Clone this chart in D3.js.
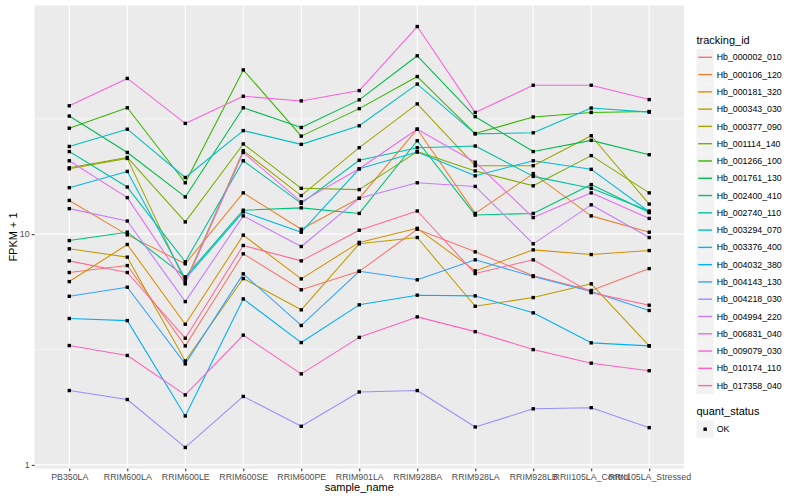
<!DOCTYPE html>
<html><head><meta charset="utf-8">
<script src="https://cdn.jsdelivr.net/npm/d3@7"></script>
<style>
body{margin:0;background:#fff;}
text{font-family:"Liberation Sans",Arial,Helvetica,sans-serif;}
</style>
</head><body>
<svg id="chart" width="800" height="500"></svg>
<script>
// ---------- data ----------
const samples = ["PB350LA","RRIM600LA","RRIM600LE","RRIM600SE","RRIM600PE","RRIM901LA","RRIM928BA","RRIM928LA","RRIM928LB","RRII105LA_Control","RRII105LA_Stressed"];
const trackingIds = ["Hb_000002_010","Hb_000106_120","Hb_000181_320","Hb_000343_030","Hb_000377_090","Hb_001114_140","Hb_001266_100","Hb_001761_130","Hb_002400_410","Hb_002740_110","Hb_003294_070","Hb_003376_400","Hb_004032_380","Hb_004143_130","Hb_004218_030","Hb_004994_220","Hb_006831_040","Hb_009079_030","Hb_010174_110","Hb_017358_040"];

const Hb_000002_010 = [6.82, 7.31, 3.28, 8.22, 5.74, 6.90, 10.5, 8.38, 6.60, 5.70, 7.09];
const Hb_000106_120 = [14.0, 9.93, 7.44, 15.1, 10.5, 14.3, 28.5, 12.3, 18.3, 12.0, 10.2];
const Hb_000181_320 = [6.23, 9.02, 4.07, 9.90, 6.40, 9.21, 10.6, 6.93, 8.55, 8.16, 8.49];
const Hb_000343_030 = [8.64, 7.95, 2.82, 6.42, 4.70, 9.08, 9.67, 4.87, 5.31, 6.09, 3.28];
const Hb_000377_090 = [19.2, 21.3, 6.21, 23.0, 14.7, 23.7, 36.7, 19.8, 19.8, 26.7, 13.5];
const Hb_001114_140 = [19.4, 21.5, 11.3, 24.6, 15.8, 15.6, 22.8, 18.8, 16.2, 21.9, 15.1];
const Hb_001266_100 = [28.8, 35.3, 16.7, 51.5, 26.6, 35.0, 48.2, 27.3, 32.2, 33.7, 34.0];
const Hb_001761_130 = [32.5, 22.6, 14.5, 35.3, 29.0, 38.2, 59.3, 32.3, 22.8, 25.5, 22.1];
const Hb_002400_410 = [9.38, 10.2, 6.53, 12.7, 13.0, 12.3, 25.4, 12.1, 12.3, 16.4, 12.4];
const Hb_002740_110 = [22.8, 16.0, 7.59, 20.8, 13.6, 20.9, 23.7, 24.1, 17.8, 15.8, 12.6];
const Hb_003294_070 = [24.0, 28.5, 17.6, 28.1, 24.5, 29.5, 44.7, 27.2, 27.5, 35.2, 33.8];
const Hb_003376_400 = [15.9, 18.7, 6.40, 12.5, 10.2, 19.2, 22.7, 17.9, 20.8, 19.1, 12.5];
const Hb_004032_380 = [4.31, 4.22, 1.63, 5.24, 3.39, 4.94, 5.44, 5.40, 4.56, 3.38, 3.28];
const Hb_004143_130 = [5.38, 5.89, 2.74, 6.73, 4.02, 6.90, 6.34, 7.74, 6.55, 5.64, 4.67];
const Hb_004218_030 = [2.10, 1.92, 1.19, 1.98, 1.47, 2.07, 2.10, 1.46, 1.75, 1.77, 1.45];
const Hb_004994_220 = [12.9, 11.4, 5.10, 12.0, 8.84, 14.3, 16.7, 16.1, 9.08, 13.4, 9.67];
const Hb_006831_040 = [20.8, 14.4, 6.09, 22.6, 13.8, 19.2, 28.5, 20.5, 11.8, 15.1, 11.7];
const Hb_009079_030 = [36.0, 47.3, 30.2, 39.6, 37.8, 41.9, 79.4, 33.7, 44.2, 44.2, 38.3];
const Hb_010174_110 = [3.29, 2.98, 2.01, 3.65, 2.48, 3.57, 4.38, 3.78, 3.16, 2.76, 2.56];
const Hb_017358_040 = [7.66, 6.82, 3.54, 8.93, 7.66, 10.4, 12.6, 6.75, 7.74, 5.58, 4.92];

const seriesValues = [Hb_000002_010, Hb_000106_120, Hb_000181_320, Hb_000343_030, Hb_000377_090,
  Hb_001114_140, Hb_001266_100, Hb_001761_130, Hb_002400_410, Hb_002740_110, Hb_003294_070,
  Hb_003376_400, Hb_004032_380, Hb_004143_130, Hb_004218_030, Hb_004994_220, Hb_006831_040,
  Hb_009079_030, Hb_010174_110, Hb_017358_040];

const yTickValues = [1, 10];
const yTickLabels = ["1", "10"];
const quantStatus = ["OK"];

// ---------- ggplot-like hue palette (polar LUV) ----------
function hclHex(h, c, l) {
  const WU = 0.1978398, WV = 0.4683363;
  const hr = h * Math.PI / 180;
  const U = c * Math.cos(hr), V = c * Math.sin(hr);
  const Y = (l > 7.999592) ? Math.pow((l + 16) / 116, 3) : l / 903.3;
  const u = U / (13 * l) + WU, v = V / (13 * l) + WV;
  const X = 9 * Y * u / (4 * v);
  const Z = -X / 3 - 5 * Y + 3 * Y / v;
  const g = t => (t > 0.00304 ? 1.055 * Math.pow(t, 1 / 2.4) - 0.055 : 12.92 * t);
  const cl = t => Math.max(0, Math.min(255, Math.round(255 * g(t))));
  const r = cl(3.240479 * X - 1.537150 * Y - 0.498535 * Z);
  const gg = cl(-0.969256 * X + 1.875992 * Y + 0.041556 * Z);
  const b = cl(0.055648 * X - 0.204043 * Y + 1.057311 * Z);
  return d3.rgb(r, gg, b).formatHex();
}
const n = trackingIds.length;
const palette = d3.range(n).map(i => hclHex(15 + 360 * i / n, 100, 65));
const color = d3.scaleOrdinal().domain(trackingIds).range(palette);

// ---------- layout ----------
const svg = d3.select("#chart");
const P = {l: 34.5, r: 684, t: 5.5, b: 468.5};

const x = d3.scalePoint().domain(samples).range([P.l, P.r]).padding(0.6);
const all = seriesValues.flat();
const lmin = Math.log10(d3.min(all)), lmax = Math.log10(d3.max(all));
const ex = (lmax - lmin) * 0.05;
const y = d3.scaleLog().domain([Math.pow(10, lmin - ex), Math.pow(10, lmax + ex)]).range([P.b, P.t]);

svg.append("rect").attr("width", 800).attr("height", 500).attr("fill", "#fff");
svg.append("rect").attr("x", P.l).attr("y", P.t).attr("width", P.r - P.l).attr("height", P.b - P.t).attr("fill", "#EBEBEB");

// minor gridlines (log midpoints)
const minorVals = [Math.sqrt(10), Math.sqrt(1000)];
svg.append("g").selectAll("line").data(minorVals).join("line")
  .attr("x1", P.l).attr("x2", P.r).attr("y1", d => y(d)).attr("y2", d => y(d))
  .attr("stroke", "#fff").attr("stroke-width", 0.53);
// major gridlines
svg.append("g").selectAll("line").data(yTickValues).join("line")
  .attr("x1", P.l).attr("x2", P.r).attr("y1", d => y(d)).attr("y2", d => y(d))
  .attr("stroke", "#fff").attr("stroke-width", 1.07);
svg.append("g").selectAll("line").data(samples).join("line")
  .attr("x1", d => x(d)).attr("x2", d => x(d)).attr("y1", P.t).attr("y2", P.b)
  .attr("stroke", "#fff").attr("stroke-width", 1.07);

// lines
const series = trackingIds.map((id, k) => ({id, values: seriesValues[k]}));
const line = d3.line().x((d, i) => x(samples[i])).y(d => y(d));
svg.append("g").selectAll("path").data(series).join("path")
  .attr("d", s => line(s.values))
  .attr("fill", "none").attr("stroke", s => color(s.id)).attr("stroke-width", 1.07)
  .attr("stroke-linejoin", "round");

// points
const pts = series.flatMap(s => s.values.map((v, i) => ({s: samples[i], v})));
const ps = 3.4;
svg.append("g").selectAll("rect").data(pts).join("rect")
  .attr("x", d => x(d.s) - ps / 2).attr("y", d => y(d.v) - ps / 2)
  .attr("width", ps).attr("height", ps).attr("fill", "#000");

// axes
const yAxis = d3.axisLeft(y).tickValues(yTickValues).tickFormat((d, i) => yTickLabels[i]).tickSize(2.75).tickPadding(2.2);
const gy = svg.append("g").attr("transform", `translate(${P.l},0)`).call(yAxis);
const xAxis = d3.axisBottom(x).tickSize(2.75).tickPadding(2.2);
const gx = svg.append("g").attr("transform", `translate(0,${P.b})`).call(xAxis);
[gx, gy].forEach(g => {
  g.select(".domain").remove();
  g.selectAll(".tick line").attr("stroke", "#333333").attr("stroke-width", 1.07);
  g.selectAll(".tick text").attr("fill", "#4D4D4D").style("font-size", "8.8px")
    .style("font-family", '"Liberation Sans",Arial,Helvetica,sans-serif');
});

// axis titles
svg.append("text").attr("x", (P.l + P.r) / 2).attr("y", 491).attr("text-anchor", "middle")
  .style("font-size", "11px").attr("fill", "#000").text("sample_name");
svg.append("text").attr("transform", `translate(17,${(P.t + P.b) / 2}) rotate(-90)`)
  .attr("text-anchor", "middle").style("font-size", "11px").attr("fill", "#000").text("FPKM + 1");

// legend: tracking_id
const LX = 696.5, KS = 17.28, firstC = 57.3;
svg.append("text").attr("x", LX).attr("y", 44.4).style("font-size", "11px").attr("fill", "#000").text("tracking_id");
const lg = svg.append("g").selectAll("g").data(trackingIds).join("g")
  .attr("transform", (d, i) => `translate(0,${firstC + i * KS})`);
lg.append("rect").attr("x", LX).attr("y", -KS / 2).attr("width", KS).attr("height", KS).attr("fill", "#F2F2F2");
lg.append("line").attr("x1", LX + 1.7).attr("x2", LX + KS - 1.7).attr("y1", 0).attr("y2", 0)
  .attr("stroke", d => color(d)).attr("stroke-width", 1.4);
lg.append("text").attr("x", LX + KS + 2.9).attr("y", 3.1).style("font-size", "8.8px").attr("fill", "#000").text(d => d);

// legend: quant_status
svg.append("text").attr("x", LX).attr("y", 414.6).style("font-size", "11px").attr("fill", "#000").text("quant_status");
const qg = svg.append("g").selectAll("g").data(quantStatus).join("g")
  .attr("transform", (d, i) => `translate(0,${429.2 + i * KS})`);
qg.append("rect").attr("x", LX).attr("y", -KS / 2).attr("width", KS).attr("height", KS).attr("fill", "#F2F2F2");
qg.append("rect").attr("x", LX + KS / 2 - ps / 2).attr("y", -ps / 2).attr("width", ps).attr("height", ps).attr("fill", "#000");
qg.append("text").attr("x", LX + KS + 2.9).attr("y", 3.1).style("font-size", "8.8px").attr("fill", "#000").text(d => d);
</script>
</body></html>
